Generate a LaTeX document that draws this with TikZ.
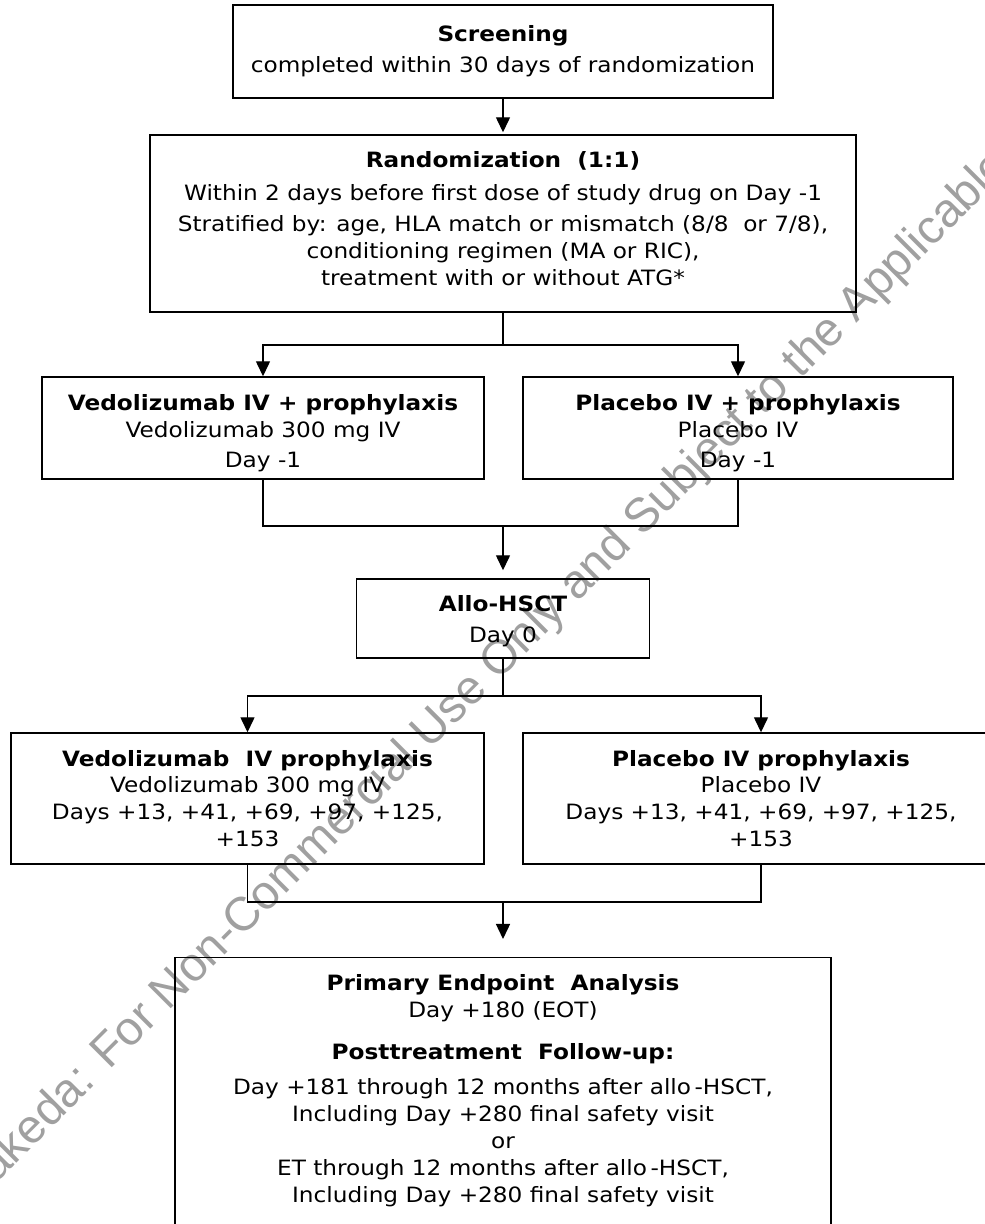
\documentclass[tikz,border=0pt]{standalone}
\usepackage{fontspec}
\setmainfont{DejaVu Sans}[FakeStretch=1.1]
\newfontfamily\wmfont{Liberation Sans}
\usepackage{xcolor}
\usepackage{tikz}
\usetikzlibrary{arrows.meta, positioning, calc}
\definecolor{wmgray}{RGB}{160,160,160}

\begin{document}
\begin{tikzpicture}[
  every node/.style={font=\fontsize{12}{15.3}\selectfont},
  box/.style={draw, line width=0.8pt, align=center, inner sep=0pt},
  arr/.style={-{Triangle[length=3mm, width=2.8mm]}, line width=0.8pt},
  link/.style={line width=0.8pt}]
  \useasboundingbox (0,0) rectangle (19.7,24.48);
  \clip (0,0) rectangle (19.7,24.48);

  % Watermark
  \node[rotate=45, anchor=base west, inner sep=0pt, text=wmgray,
        font=\wmfont\fontsize{27}{27}\selectfont] (wmark) at (-0.42,0.46)
        {Takeda: For Non-Commercial Use Only and Subject to the Applicable};

  % Screening
  \node[box, minimum width=10.8cm, minimum height=1.86cm] (screen) at (10.06,23.45)
        {\textbf{Screening}\\[2.3pt] completed within 30 days of randomization};

  % Randomization
  \node[box, minimum width=14.12cm, minimum height=3.54cm, text depth=0.2cm] (rand) at (10.06,20.01)
        {\textbf{Randomization\ \ (1:1)}\\[3.4pt]
         Within 2 days before first dose of study drug on Day -1\\[2.3pt]
         Stratified by: age, HLA match or mismatch (8/8\ \ or 7/8),\\
         conditioning regimen (MA or RIC),\\
         treatment with or without ATG*};

  % Day -1 arms
  \node[box, minimum width=8.84cm, minimum height=2.04cm, text height=1.66cm] (vedo1) at (5.26,15.92)
        {\textbf{Vedolizumab IV + prophylaxis}\\ Vedolizumab 300 mg IV\\[1.7pt] Day -1};
  \node[box, minimum width=8.6cm, minimum height=2.04cm, text height=1.66cm] (plac1) at (14.76,15.92)
        {\textbf{Placebo IV + prophylaxis}\\ Placebo IV\\[1.7pt] Day -1};

  % Transplant
  \node[box, minimum width=5.86cm, minimum height=1.58cm, text height=1.06cm] (allo) at (10.06,12.11)
        {\textbf{Allo-HSCT}\\[2.3pt] Day 0};

  % Post-transplant arms
  \node[box, minimum width=9.46cm, minimum height=2.62cm] (vedo2) at (4.95,8.51)
        {\textbf{Vedolizumab\ \ IV prophylaxis}\\ Vedolizumab 300 mg IV\\
         Days +13, +41, +69, +97, +125,\\ +153};
  \node[box, minimum width=9.52cm, minimum height=2.62cm] (plac2) at (15.22,8.51)
        {\textbf{Placebo IV prophylaxis}\\ Placebo IV\\
         Days +13, +41, +69, +97, +125,\\ +153};

  % Endpoint and follow-up (runs off the page)
  \node[box, anchor=north, minimum width=13.12cm, inner ysep=0.33cm, text depth=2cm]
        (endpt) at (10.06,5.34)
        {\textbf{Primary Endpoint\ \ Analysis}\\ Day +180 (EOT)\\[9pt]
         \textbf{Posttreatment\ \ Follow-up:}\\[4.5pt]
         Day +181 through 12 months after allo\,-HSCT,\\
         Including Day +280 final safety visit\\
         or\\
         ET through 12 months after allo\,-HSCT,\\
         Including Day +280 final safety visit};

  % Connectors
  \coordinate (split1) at (10.06,17.58);
  \coordinate (join1) at (10.06,13.96);
  \coordinate (split2) at (10.06,10.56);
  \coordinate (join2) at (10.06,6.44);

  \draw[arr, shorten >=0.04cm] (screen) -- (rand);
  \draw[link] (rand) -- (split1);
  \draw[arr] (split1) -| (vedo1);
  \draw[arr] (split1) -| (plac1);
  \draw[link] (vedo1) |- (join1) -| (plac1);
  \draw[arr, shorten >=0.16cm] (join1) -- (allo);
  \draw[link] (allo) -- (split2);
  \draw[arr] (split2) -| (vedo2);
  \draw[arr] (split2) -| (plac2);
  \draw[link] (vedo2) |- (join2) -| (plac2);
  \draw[arr, shorten >=0.36cm] (join2) -- (endpt);

\end{tikzpicture}
\end{document}
